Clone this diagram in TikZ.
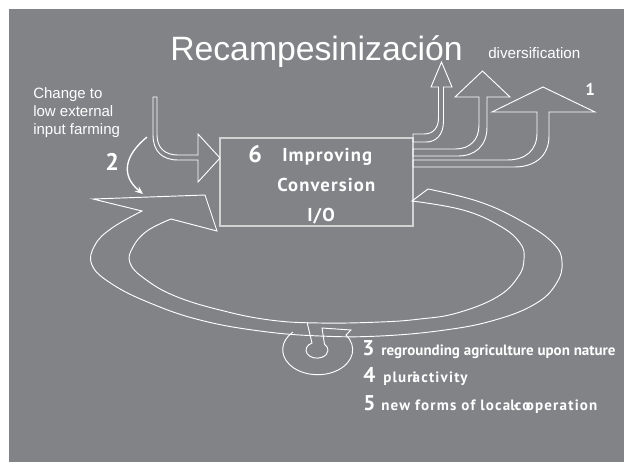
\documentclass[tikz,border=0pt]{standalone}
\usepackage{fontspec}
\setmainfont{Liberation Sans}
\newfontfamily\ptsans{PT Sans}
\newfontfamily\ptsansbox{PT Sans}[LetterSpace=6]
\newfontfamily\ptsanswide{PT Sans}[LetterSpace=8]
\usetikzlibrary{arrows.meta}
\definecolor{slide}{RGB}{130,131,135}
\definecolor{boxline}{RGB}{210,210,210}

\begin{document}
\begin{tikzpicture}[x=0.75pt, y=-0.75pt,
    label/.style={text=white, inner sep=0pt, anchor=base west},
    num/.style={label, font=\ptsans\bfseries\fontsize{18}{18}\selectfont},
    word/.style={label, font=\ptsansbox\bfseries\fontsize{14}{16}\selectfont},
    numb/.style={label, font=\ptsans\bfseries\fontsize{16}{16}\selectfont},
    item/.style={label, font=\ptsans\bfseries\fontsize{11.25}{13}\selectfont},
    itemwide/.style={label, font=\ptsanswide\bfseries\fontsize{11.25}{13}\selectfont},
    band/.style={draw=white, line width=0.7pt},
    hollow/.style={draw=white, line width=0.7pt, line join=miter}
]
    \useasboundingbox (0,0) rectangle (624,462);
    \fill[slide] (9,9) rectangle (624,462);

    % Title and side texts
    \node[label, font=\fontsize{25.3}{30}\selectfont] (title) at (170,60) {Recampesinización};
    \node[label, font=\fontsize{11.4}{13}\selectfont] (divers) at (488,58) {diversification};
    \node[label, font=\ptsans\bfseries\fontsize{12.75}{14}\selectfont] (one) at (585,95) {1};
    \node[label, anchor=north west, align=left, font=\fontsize{11.25}{13.5}\selectfont] (lowinput) at (33,87) {Change to\\low external\\input farming};
    \node[num] (two) at (105,170) {2};

    % Conversion box
    \node[draw=boxline, line width=1.1pt, minimum width=144.75pt, minimum height=66pt, inner sep=0pt] (conv) at (316.5,182) {};
    \node[num] (six) at (248,162) {6};
    \node[word] (improving) at (282,161) {Improving};
    \node[word] (conversion) at (277,191) {Conversion};
    \node[word] (io) at (307,221) {I/O};

    % Input arrow
    \draw[hollow] (153,97) -- (153,135) .. controls (153,151) and (162,160) .. (178,160) -- (198,160) -- (198,182) -- (220,158) -- (198,134) -- (198,155) -- (178,155) .. controls (165,155) and (157,148) .. (157,135) -- (157,97) -- cycle;

    % Output arrows
    \draw[hollow] (413,134) -- (424,134) .. controls (433,134) and (438.5,128) .. (438.5,118) -- (438.5,87) -- (431,87) -- (441.5,62) -- (452,87) -- (443.5,87) -- (443.5,121) .. controls (443.5,135) and (436,142) .. (426,142) -- (413,142) -- cycle;
    \draw[hollow] (413,149) -- (455,149) .. controls (470,149) and (479,140) .. (479,125) -- (479,97) -- (455,97) -- (482.5,71) -- (510,97) -- (487,97) -- (487,127) .. controls (487,146) and (475,156) .. (458,156) -- (413,156) -- cycle;
    \draw[hollow] (413,160) -- (507,160) .. controls (526,160) and (537,150) .. (537,133) -- (537,112) -- (492,112) -- (543,87) -- (595,112) -- (549,112) -- (549,136) .. controls (549,156) and (535,167) .. (514,167) -- (413,167) -- cycle;

    % Feedback band
    \draw[band] plot[smooth, tension=0.7] coordinates {(428,189) (480,202) (523,222) (553,243) (562,262) (556,284) (535,304) (495,320) (445,330) (380,336) (320,336) (260,331) (200,320) (150,303) (112,284) (92,265) (95,245) (112,228) (142,211)}
        -- (93,199) -- (205,195) -- (217,231)
        -- plot[smooth, tension=0.7] coordinates {(171,219) (147,231) (133,247) (130,263) (145,279) (175,296) (220,310) (270,320) (320,323) (380,322) (420,319) (457,313) (497,297) (518,277) (524,259) (520,243) (500,226) (463,210) (412,201)}
        -- cycle;

    % Small spiral
    \draw[band] (307,322) -- (312,343) arc[start angle=243, end angle=-47, x radius=11, y radius=8]
        -- (322,328) -- (351,330) -- (346,335) arc[start angle=-36, end angle=225, x radius=35, y radius=25];

    % Curved arrow 2
    \coordinate (twofrom) at (147,137);
    \coordinate (twoto) at (143,194);
    \draw[white, line width=1pt, -{Stealth[length=6pt, width=5pt]}] (twofrom) .. controls (125,155) and (120,175) .. (twoto);

    % Items
    \node[numb] (three) at (362,355) {3};
    \node[item] (ground) at (381,355) {regrounding agriculture upon nature};
    \node[numb] (four) at (363,382) {4};
    \node[itemwide] (pluri) at (383,382) {plur\rlap{i}activity};
    \node[numb] (five) at (363,410) {5};
    \node[itemwide] (coop) at (381,410) {new forms of loca\rlap{l}\kern.2em\rlap{-}\kern.1em co\kern-.3em operation};
\end{tikzpicture}
\end{document}
